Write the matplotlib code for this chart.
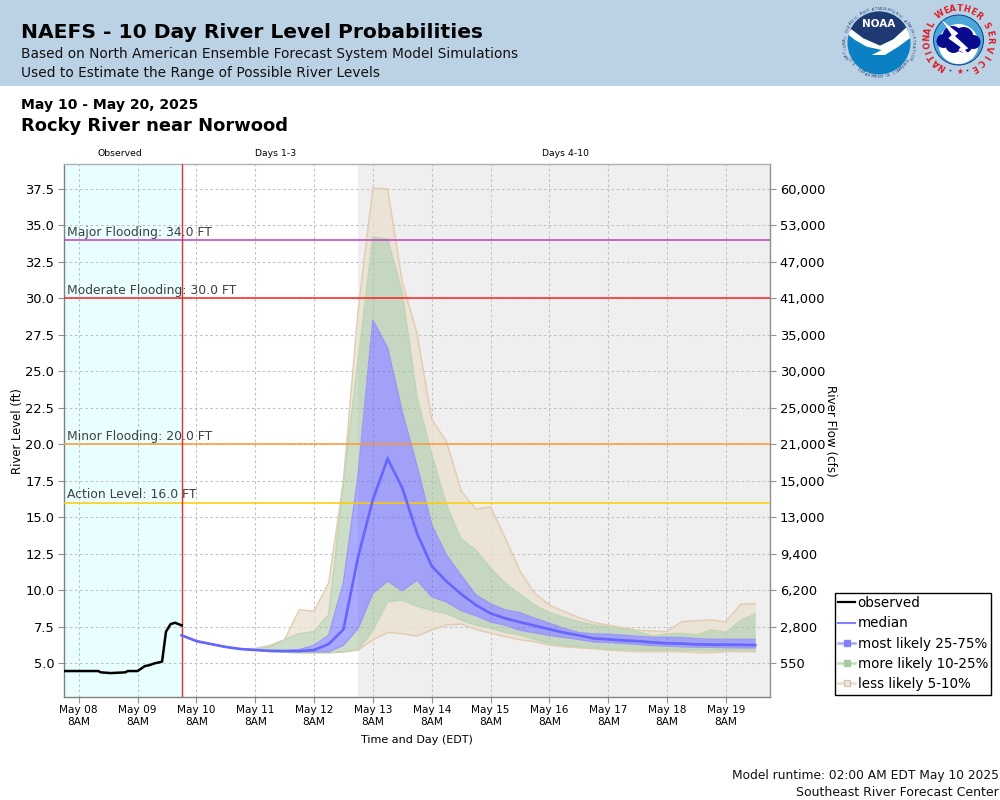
import numpy as np
import pandas as pd
import matplotlib
matplotlib.use("Agg")
import matplotlib.pyplot as plt
from matplotlib.lines import Line2D
from matplotlib.patches import Circle, Polygon, Rectangle

# hours after May 08 02:00 and stage in ft
obsHours = [0, 14, 15, 19, 25, 26, 30, 33, 35, 37, 40, 41.6, 43.5, 45.3, 48]
obsLevel = [4.45, 4.45, 4.36, 4.31, 4.36, 4.45, 4.45, 4.79, 4.86, 4.98, 5.09, 7.15, 7.67, 7.76, 7.58]

# 6 hourly forecast from model runtime
median = [6.9, 6.5, 6.3, 6.1, 5.96, 5.89, 5.84, 5.82, 5.82, 5.89, 6.3, 7.3, 12.3, 16.2, 19.0, 17.0, 13.9, 11.65, 10.6, 9.73,
          8.98, 8.4, 8.06, 7.8, 7.56, 7.31, 7.08, 6.9, 6.69, 6.62, 6.55, 6.5, 6.42, 6.35, 6.33, 6.28, 6.26, 6.26, 6.25, 6.23]
p75 = [6.9, 6.5, 6.3, 6.1, 5.96, 5.89, 5.84, 5.85, 5.92, 6.2, 6.9, 10.5, 17.9, 28.5, 26.6, 22.2, 18.5, 14.46, 12.4, 11.0,
       9.66, 9.05, 8.63, 8.45, 8.06, 7.72, 7.37, 7.08, 6.99, 6.97, 6.9, 6.83, 6.76, 6.76, 6.74, 6.67, 6.62, 6.62, 6.62, 6.62]
p25 = [6.9, 6.5, 6.3, 6.1, 5.96, 5.89, 5.82, 5.8, 5.78, 5.78, 5.78, 6.23, 7.4, 9.8, 10.62, 9.96, 10.7, 9.55, 9.2, 8.6,
       8.25, 7.83, 7.6, 7.25, 7.08, 6.9, 6.76, 6.62, 6.46, 6.42, 6.35, 6.28, 6.21, 6.17, 6.12, 6.1, 6.08, 6.06, 6.05, 6.05]
p90 = [6.9, 6.5, 6.3, 6.1, 5.96, 5.95, 6.1, 6.6, 7.0, 7.15, 8.3, 17.3, 25.8, 34.2, 34.07, 30.35, 23.2, 19.3, 15.83, 13.5,
       12.75, 11.5, 10.47, 9.7, 8.97, 8.45, 8.13, 7.83, 7.6, 7.49, 7.33, 7.15, 6.85, 6.99, 7.03, 6.92, 7.26, 7.1, 7.9, 8.36]
p10 = [6.9, 6.5, 6.3, 6.1, 5.96, 5.89, 5.78, 5.75, 5.72, 5.72, 5.72, 5.78, 5.9, 7.26, 9.2, 9.32, 8.9, 8.6, 8.4, 7.95,
       7.6, 7.4, 7.1, 6.92, 6.62, 6.35, 6.21, 6.12, 6.05, 5.96, 5.94, 5.89, 5.89, 5.89, 5.89, 5.87, 5.84, 5.89, 5.89, 5.89]
p95 = [6.9, 6.5, 6.3, 6.1, 5.96, 6.0, 6.2, 6.6, 8.65, 8.56, 10.5, 17.5, 29.2, 37.55, 37.5, 31.1, 27.6, 21.7, 20.2, 16.8,
       15.55, 15.7, 13.56, 11.3, 9.78, 8.97, 8.52, 8.13, 7.78, 7.6, 7.42, 7.26, 7.19, 7.15, 7.83, 7.9, 7.95, 7.83, 9.02, 9.07]
p5 = [6.9, 6.5, 6.3, 6.1, 5.96, 5.89, 5.78, 5.74, 5.7, 5.7, 5.7, 5.76, 5.9, 6.58, 7.1, 7.0, 6.85, 7.26, 7.6, 7.67,
      7.3, 7.05, 6.8, 6.6, 6.46, 6.23, 6.12, 6.05, 5.98, 5.89, 5.82, 5.78, 5.78, 5.78, 5.78, 5.71, 5.71, 5.78, 5.78, 5.78]

floodLevels = [34.0, 30.0, 20.0, 16.0]
floodNames = ["Major Flooding: 34.0 FT", "Moderate Flooding: 30.0 FT", "Minor Flooding: 20.0 FT", "Action Level: 16.0 FT"]
floodColors = ["#c040c0", "#ff2020", "#ff9933", "#ffcc00"]

stageTicks = [5.0, 7.5, 10.0, 12.5, 15.0, 17.5, 20.0, 22.5, 25.0, 27.5, 30.0, 32.5, 35.0, 37.5]
flowLabels = ["550", "2,800", "6,200", "9,400", "13,000", "15,000", "21,000", "25,000", "30,000", "35,000", "41,000", "47,000", "53,000", "60,000"]

tickDays = pd.date_range("2025-05-08 08:00", "2025-05-19 08:00", freq="D")

start = pd.Timestamp("2025-05-08 02:00")
end = pd.Timestamp("2025-05-20 02:00")
runtime = pd.Timestamp("2025-05-10 02:00")
grayStart = pd.Timestamp("2025-05-13 02:00")

obsTimes = [start + pd.Timedelta(hours=h) for h in obsHours]
fcstTimes = pd.date_range(runtime, periods=len(median), freq="6h")

fig = plt.figure(figsize=(10, 8), dpi=100)

# header band and logos, drawn in pixel coords
bg = fig.add_axes([0, 0, 1, 1], zorder=3)
bg.set_xlim(0, 1000)
bg.set_ylim(800, 0)
bg.axis("off")
bg.add_patch(Rectangle((0, 0), 1000, 86, color="#bbd2e5", lw=0))
bg.text(21, 33, "NAEFS - 10 Day River Level Probabilities", fontsize=14.55, fontweight="bold", va="center")
bg.text(21, 54, "Based on North American Ensemble Forecast System Model Simulations", fontsize=9.9, va="center", color="#111111")
bg.text(21, 73, "Used to Estimate the Range of Possible River Levels", fontsize=9.9, va="center", color="#111111")
bg.text(21, 105, "May 10 - May 20, 2025", fontsize=10.1, fontweight="bold", va="center")
bg.text(21, 126, "Rocky River near Norwood", fontsize=12.87, fontweight="bold", va="center")
bg.text(120, 154, "Observed", fontsize=6.7, ha="center", va="center")
bg.text(276, 154, "Days 1-3", fontsize=6.7, ha="center", va="center")
bg.text(566, 154, "Days 4-10", fontsize=6.7, ha="center", va="center")
bg.text(417, 740, "Time and Day (EDT)", fontsize=8.0, ha="center", va="center")
bg.text(999, 776, "Model runtime: 02:00 AM EDT May 10 2025", fontsize=8.8, ha="right", va="center", color="#111111")
bg.text(999, 792, "Southeast River Forecast Center", fontsize=9.0, ha="right", va="center", color="#111111")
bg.text(18, 431, "River Level (ft)", fontsize=8.4, rotation=90, ha="center", va="center")
bg.text(831, 431, "River Flow (cfs)", fontsize=8.6, rotation=270, ha="center", va="center")


def arcText(cx, cy, r, s, a0, a1, **kw):
    # letters along an arc, angles in degrees clockwise from top
    for ch, a in zip(s, np.linspace(a0, a1, len(s))):
        t = np.radians(a)
        bg.text(cx + r * np.sin(t), cy - r * np.cos(t), ch, rotation=-a, ha="center", va="center", **kw)


def logoPts(pts):
    return [[830 + x / 3, y / 3] for x, y in pts]


# NOAA
nx, ny = 879, 43
disc = Circle((nx, ny), 31.5, color="#0b80c4", lw=0)
bg.add_patch(disc)
navy = Polygon(logoPts([[40, 20], [250, 20], [250, 85], [190, 118], [150, 137], [100, 115], [40, 85]]), color="#1f3a73", lw=0)
bg.add_patch(navy)
navy.set_clip_path(disc)
bird = Polygon(logoPts([[50, 100], [60, 85], [100, 115], [150, 137], [190, 118], [240, 72], [246, 110], [205, 140], [165, 165],
                        [125, 165], [155, 150], [110, 140], [75, 120]]), color="white", lw=0)
bg.add_patch(bird)
bird.set_clip_path(disc)
bg.text(nx, ny - 19, "NOAA", color="white", fontsize=7.5, fontweight="bold", ha="center", va="center")
arcText(nx, ny, 34, "NATIONAL OCEANIC AND ATMOSPHERIC ADMINISTRATION", -115, 115, fontsize=2.7, color="#1f3a73")
for ch, a in zip("U.S. DEPARTMENT OF COMMERCE", np.linspace(240, 120, 27)):
    t = np.radians(a)
    bg.text(nx + 34 * np.sin(t), ny - 34 * np.cos(t), ch, rotation=180 - a, ha="center", va="center", fontsize=2.7, color="#1f3a73")

# NWS
wx, wy = 958.5, 40
bg.add_patch(Circle((wx, wy), 25, color="#4aa7d8", ec="#123a8c", lw=0.7))
bg.add_patch(Circle((wx, wy + 4), 20, color="white", lw=0))
for dx, dy, r in [(-15, 1, 7), (-6, -4, 10), (5, -3, 10), (15, 2, 7), (-5, 5, 8), (6, 5, 8)]:
    bg.add_patch(Circle((wx + dx, wy + dy), r, color="#0a0a8c", lw=0))
bg.add_patch(Polygon(logoPts([[335, 60], [385, 100], [375, 108], [415, 145], [405, 150], [432, 178], [385, 150], [392, 142],
                              [355, 115], [365, 105]]), color="white", lw=0))
arcText(wx, wy, 31.5, "NATIONAL", -148, -61, fontsize=6.0, fontweight="bold", color="#e01b24")
arcText(wx, wy, 31.5, "WEATHER", -35, 40, fontsize=6.0, fontweight="bold", color="#e01b24")
arcText(wx, wy, 31.5, "SERVICE", 62, 150, fontsize=6.0, fontweight="bold", color="#e01b24")
bg.text(wx + 1, wy + 31.5, "\u2605", fontsize=5.5, color="#e01b24", ha="center", va="center")
for dx in (-8, 9):
    bg.add_patch(Circle((wx + dx, wy + 30.5), 0.9, color="#1f3a73", lw=0))

# main chart
ax = fig.add_axes([64 / 1000, 103 / 800, 706 / 1000, 533 / 800], zorder=2)
ax.set_facecolor("white")
ax.axvspan(start, runtime, color="#e9ffff", lw=0, zorder=0)
ax.axvspan(grayStart, end, color="#efefef", lw=0, zorder=0)
ax.set_xlim(start, end)
ax.set_ylim(2.67, 39.21)

ax.set_xticks(tickDays)
ax.set_xticklabels([d.strftime("%b %d") + "\n8AM" for d in tickDays], fontsize=7.6, linespacing=1.25)
ax.set_yticks(stageTicks)
ax.set_yticklabels(["%.1f" % v for v in stageTicks], fontsize=9.4)
ax.grid(True, color="#c0c0c0", linestyle=(0, (2.5, 2.5)), linewidth=0.75, zorder=1)
ax.set_axisbelow(True)
ax.tick_params(axis="x", length=4, color="#909090", pad=2)
ax.tick_params(axis="y", length=4, color="#909090", pad=3)
for side in ax.spines:
    ax.spines[side].set_color("#b0b0b0")
    ax.spines[side].set_linewidth(1.0)
ax.spines["left"].set_color("#808080")
ax.spines["right"].set_color("#909090")
ax.spines["bottom"].set_color("#808080")

tan = "#ece1d2"
green = "#a4c49c"
blue = "#5a5aff"
ax.fill_between(fcstTimes, p90, p95, color=tan, alpha=0.8, lw=0, zorder=2)
ax.fill_between(fcstTimes, p5, p10, color=tan, alpha=0.8, lw=0, zorder=2)
ax.fill_between(fcstTimes, p75, p90, color=green, alpha=0.55, lw=0, zorder=2)
ax.fill_between(fcstTimes, p10, p25, color=green, alpha=0.55, lw=0, zorder=2)
ax.fill_between(fcstTimes, p25, p75, color=blue, alpha=0.52, lw=0, zorder=2)
for band, col in [(p95, "#e2cdb4"), (p5, "#e2cdb4"), (p90, "#bed6b2"), (p10, "#bed6b2"), (p75, "#9a9af4"), (p25, "#9a9af4")]:
    ax.plot(fcstTimes, band, color=col, lw=1.1, zorder=3)

for lev, name, col in zip(floodLevels, floodNames, floodColors):
    ax.axhline(lev, color=col, lw=1.1, zorder=4)
    ax.annotate(name, xy=(0, lev), xycoords=("axes fraction", "data"), xytext=(2.3, 1), textcoords="offset points",
                fontsize=8.9, color="#404040", va="bottom", zorder=6)
ax.axvline(runtime, color="#e03030", lw=1.0, zorder=4)

ax.plot(fcstTimes, median, color="#6666ff", lw=1.9, zorder=5, solid_joinstyle="miter")
ax.plot(obsTimes, obsLevel, color="black", lw=1.8, zorder=5)

ax2 = ax.twinx()
ax2.set_ylim(ax.get_ylim())
ax2.set_yticks(stageTicks)
ax2.set_yticklabels(flowLabels, fontsize=9.4)
ax2.tick_params(axis="y", length=4, color="#909090", pad=3)
for side in ax2.spines:
    ax2.spines[side].set_visible(False)

handles = [
    Line2D([], [], color="black", lw=1.6),
    Line2D([], [], color="#8080ff", lw=1.5),
    Line2D([], [], color="#a8a8f6", lw=1.8, marker="s", ms=4.5, mfc="#8080ff", mec="#8080ff"),
    Line2D([], [], color="#c4dab8", lw=1.8, marker="s", ms=4.5, mfc="#a8cca0", mec="#a8cca0"),
    Line2D([], [], color="#ecdcc8", lw=1.8, marker="s", ms=4.5, mfc="#f0e6d8", mec="#d8c4ac"),
]
names = ["observed", "median", "most likely 25-75%", "more likely 10-25%", "less likely 5-10%"]
leg = bg.legend(handles, names, loc="lower left", bbox_to_anchor=(835 / 1000, (800 - 694.5) / 800), bbox_transform=fig.transFigure,
                fontsize=9.75, frameon=True, fancybox=False, framealpha=1, edgecolor="black", borderpad=0.25,
                labelspacing=0.46, handlelength=1.2, handletextpad=0.22, borderaxespad=0)
leg.get_frame().set_linewidth(1.0)

fig.savefig("out.png", dpi=100)
